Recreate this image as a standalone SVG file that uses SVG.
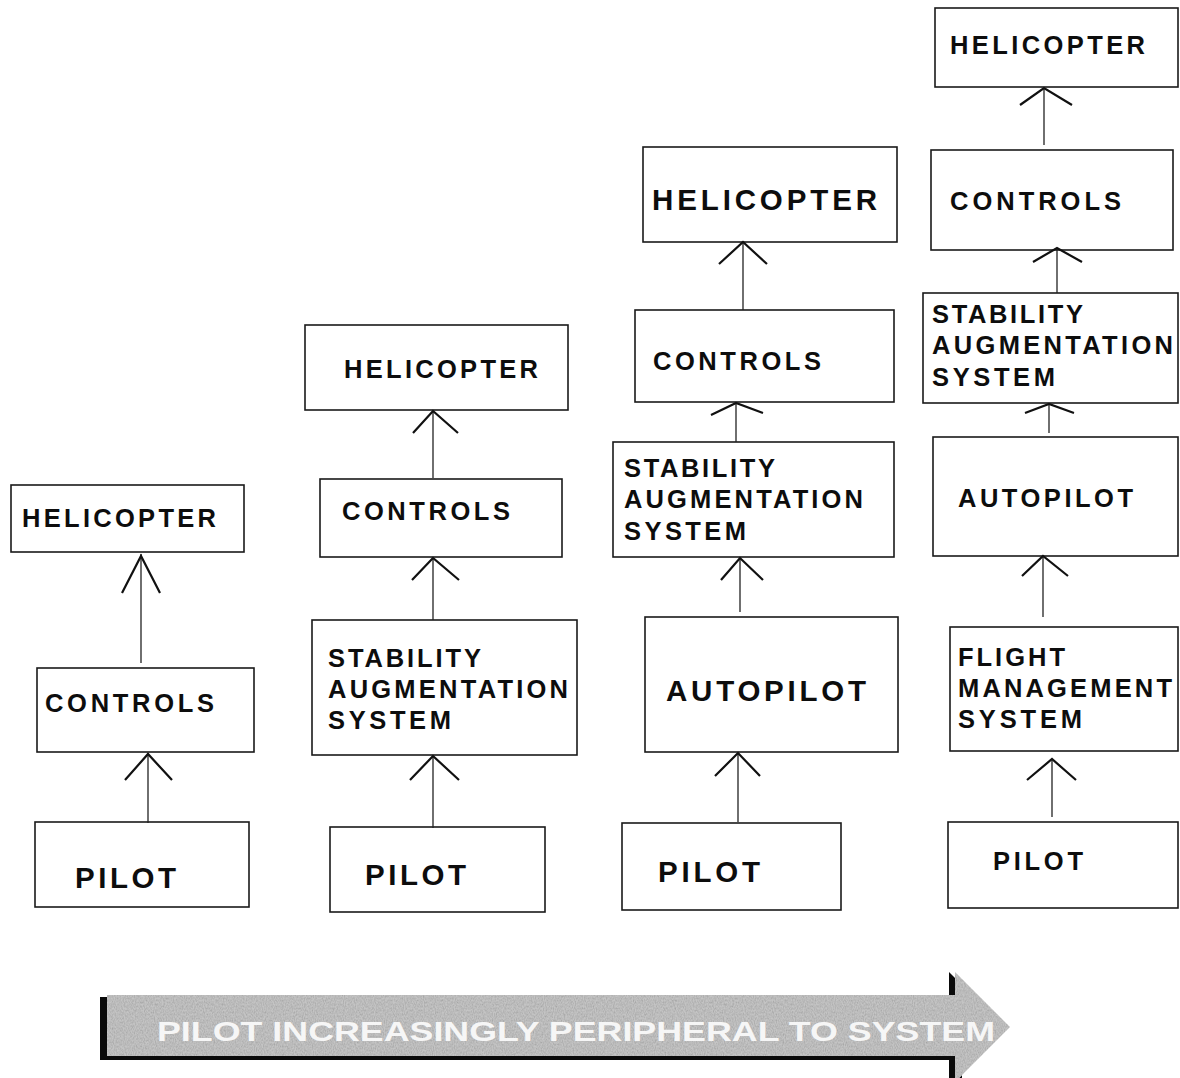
<svg xmlns="http://www.w3.org/2000/svg" width="1180" height="1078" viewBox="0 0 1180 1078">
<defs>
<style>
.box{fill:#fff;stroke:#1a1a1a;stroke-width:1.6}
.t{font-family:"Liberation Sans",Arial,Helvetica,sans-serif;font-weight:bold;fill:#0d0d0d;font-size:25.5px}
.big{font-size:29.5px}
.ln{stroke:#222;stroke-width:1.3;fill:none}
.hd{stroke:#111;stroke-width:2.2;fill:none;stroke-linejoin:miter}
.ban{font-family:"Liberation Sans",Arial,Helvetica,sans-serif;font-weight:bold;fill:#f6f6f6;font-size:28px}
</style>
<filter id="grain" x="0" y="0" width="100%" height="100%">
<feTurbulence type="fractalNoise" baseFrequency="0.9 0.5" numOctaves="2" seed="4" result="noise"/>
<feColorMatrix in="noise" type="saturate" values="0" result="g"/>
<feComponentTransfer in="g" result="g2">
<feFuncR type="linear" slope="0.7" intercept="0.55"/>
<feFuncG type="linear" slope="0.7" intercept="0.55"/>
<feFuncB type="linear" slope="0.7" intercept="0.55"/>
<feFuncA type="linear" slope="0" intercept="1"/>
</feComponentTransfer>
<feComposite in="g2" in2="SourceGraphic" operator="in" result="c"/>
<feBlend in="SourceGraphic" in2="c" mode="multiply"/>
</filter>
</defs>
<rect width="1180" height="1078" fill="#fff"/>

<!-- Column 1 -->
<g id="c1-helicopter"><rect class="box" x="11" y="485" width="233" height="67"/><text class="t" x="22" y="527" textLength="194">HELICOPTER</text></g>
<g id="c1-controls"><rect class="box" x="37" y="668" width="217" height="84"/><text class="t" x="45" y="712" textLength="169">CONTROLS</text></g>
<g id="c1-pilot"><rect class="box" x="35" y="822" width="214" height="85"/><text class="t big" x="75" y="888" textLength="101">PILOT</text></g>

<!-- Column 2 -->
<g id="c2-helicopter"><rect class="box" x="305" y="325" width="263" height="85"/><text class="t" x="344" y="378" textLength="194">HELICOPTER</text></g>
<g id="c2-controls"><rect class="box" x="320" y="479" width="242" height="78"/><text class="t" x="342" y="520" textLength="168">CONTROLS</text></g>
<g id="c2-sas"><rect class="box" x="312" y="620" width="265" height="135"/>
<text class="t" x="328" y="667" textLength="153">STABILITY</text>
<text class="t" x="328" y="698" textLength="240">AUGMENTATION</text>
<text class="t" x="328" y="729" textLength="123">SYSTEM</text></g>
<g id="c2-pilot"><rect class="box" x="330" y="827" width="215" height="85"/><text class="t big" x="365" y="885" textLength="101">PILOT</text></g>

<!-- Column 3 -->
<g id="c3-helicopter"><rect class="box" x="643" y="147" width="254" height="95"/><text class="t big" x="652" y="210" textLength="225">HELICOPTER</text></g>
<g id="c3-controls"><rect class="box" x="635" y="310" width="259" height="92"/><text class="t" x="653" y="370" textLength="168">CONTROLS</text></g>
<g id="c3-sas"><rect class="box" x="613" y="442" width="281" height="115"/>
<text class="t" x="624" y="477" textLength="151">STABILITY</text>
<text class="t" x="624" y="508" textLength="239">AUGMENTATION</text>
<text class="t" x="624" y="540" textLength="122">SYSTEM</text></g>
<g id="c3-autopilot"><rect class="box" x="645" y="617" width="253" height="135"/><text class="t big" x="666" y="701" textLength="200">AUTOPILOT</text></g>
<g id="c3-pilot"><rect class="box" x="622" y="823" width="219" height="87"/><text class="t big" x="658" y="882" textLength="102">PILOT</text></g>

<!-- Column 4 -->
<g id="c4-helicopter"><rect class="box" x="935" y="8" width="243" height="79"/><text class="t" x="950" y="54" textLength="195">HELICOPTER</text></g>
<g id="c4-controls"><rect class="box" x="931" y="150" width="242" height="100"/><text class="t" x="950" y="210" textLength="171">CONTROLS</text></g>
<g id="c4-sas"><rect class="box" x="923" y="293" width="255" height="110"/>
<text class="t" x="932" y="323" textLength="151">STABILITY</text>
<text class="t" x="932" y="354" textLength="241">AUGMENTATION</text>
<text class="t" x="932" y="386" textLength="123">SYSTEM</text></g>
<g id="c4-autopilot"><rect class="box" x="933" y="437" width="245" height="119"/><text class="t" x="958" y="507" textLength="175">AUTOPILOT</text></g>
<g id="c4-fms"><rect class="box" x="950" y="627" width="228" height="124"/>
<text class="t" x="958" y="666" textLength="107">FLIGHT</text>
<text class="t" x="958" y="697" textLength="214">MANAGEMENT</text>
<text class="t" x="958" y="728" textLength="124">SYSTEM</text></g>
<g id="c4-pilot"><rect class="box" x="948" y="822" width="230" height="86"/><text class="t" x="993" y="870" textLength="90">PILOT</text></g>

<!-- Connectors -->
<g id="connectors">
<line class="ln" x1="141" y1="663" x2="141" y2="554"/><polyline class="hd" points="122,593 141,556 160,593"/>
<line class="ln" x1="148" y1="823" x2="148" y2="753"/><polyline class="hd" points="125,780 148,754 172,780"/>

<line class="ln" x1="433" y1="478" x2="433" y2="411"/><polyline class="hd" points="413,433 433,411 458,433"/>
<line class="ln" x1="433" y1="620" x2="433" y2="558"/><polyline class="hd" points="412,580 433,558 459,580"/>
<line class="ln" x1="433" y1="828" x2="433" y2="756"/><polyline class="hd" points="410,780 433,756 459,780"/>

<line class="ln" x1="743" y1="310" x2="743" y2="242"/><polyline class="hd" points="719,264 743,242 767,264"/>
<line class="ln" x1="736" y1="442" x2="736" y2="403"/><polyline class="hd" points="711,415 736,403 763,413"/>
<line class="ln" x1="740" y1="612" x2="740" y2="558"/><polyline class="hd" points="721,580 740,558 763,580"/>
<line class="ln" x1="738" y1="822" x2="738" y2="753"/><polyline class="hd" points="715,776 738,753 760,776"/>

<line class="ln" x1="1044" y1="145" x2="1044" y2="88"/><polyline class="hd" points="1020,105 1044,88 1072,105"/>
<line class="ln" x1="1057" y1="293" x2="1057" y2="248"/><polyline class="hd" points="1033,262 1057,248 1082,262"/>
<line class="ln" x1="1049" y1="433" x2="1049" y2="403"/><polyline class="hd" points="1025,413 1049,404 1074,413"/>
<line class="ln" x1="1043" y1="617" x2="1043" y2="556"/><polyline class="hd" points="1022,576 1043,556 1068,576"/>
<line class="ln" x1="1052" y1="817" x2="1052" y2="759"/><polyline class="hd" points="1027,780 1052,759 1076,780"/>
</g>

<!-- Banner arrow -->
<g id="banner">
<rect x="100" y="997" width="8" height="63" fill="#0a0a0a"/>
<rect x="100" y="1054" width="858" height="6" fill="#0a0a0a"/>
<polygon points="949,972 962,985 962,996 949,996" fill="#0a0a0a"/>
<polygon points="949,1058 962,1058 962,1078 949,1078" fill="#0a0a0a"/>
<polygon points="107,995 955,995 955,972 1010,1027 955,1082 955,1056 107,1056" fill="#c4c4c4" filter="url(#grain)"/>
<text class="ban" x="157" y="1041" textLength="838" lengthAdjust="spacingAndGlyphs">PILOT INCREASINGLY PERIPHERAL TO SYSTEM</text>
</g>
</svg>
